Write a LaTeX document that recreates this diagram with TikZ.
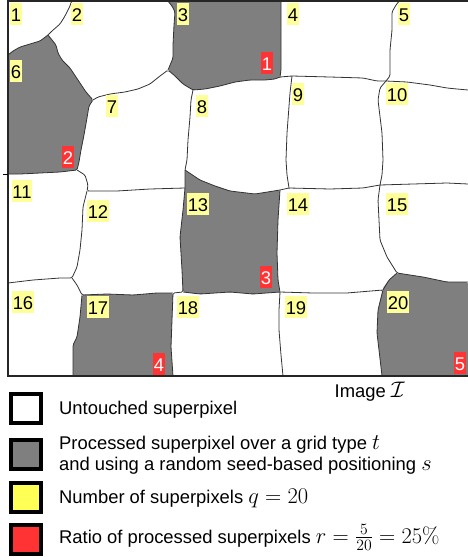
\RequirePackage{fix-cm}
\documentclass[tikz,border=0pt]{standalone}
\usepackage{amsmath}
\usepackage[no-math]{fontspec}
\setmainfont{Liberation Sans}
\usepackage{tikz}
\usetikzlibrary{positioning}
\definecolor{procgray}{RGB}{127,127,127}
\definecolor{numyellow}{RGB}{255,255,153}
\definecolor{keyyellow}{RGB}{255,255,85}
\definecolor{ratred}{RGB}{255,51,51}
\newcommand{\legmath}[1]{{\fontsize{22.5}{26}\selectfont$#1$}}

\begin{document}
\begin{tikzpicture}[x=1pt,y=-1pt,
numnode/.style={rectangle, fill=numyellow, inner xsep=0.7pt, inner ysep=2.5pt, text height=15.5pt, text depth=1.5pt, font=\fontsize{18.4}{22}\selectfont},
ratnode/.style={numnode, fill=ratred, text=white},
border/.style={draw=black!80, line width=0.8pt, rounded corners=1.5pt},
procfill/.style={fill=procgray, rounded corners=1.5pt},
keynode/.style={rectangle, draw=black, line width=3.5pt, minimum width=30pt, minimum height=29pt, inner sep=0pt, outer sep=0pt},
legtext/.style={anchor=base west, inner sep=0pt, font=\fontsize{18.4}{22}\selectfont},
]
\useasboundingbox (0,0) rectangle (468,560);

%Processed superpixels
\fill[procfill] (167,0) -- (172,6) -- (175,12) -- (174,25) -- (173,45) -- (173,58) -- (168,70) -- (175,76) -- (183,84) -- (193,90) -- (205,89) -- (220,86) -- (235,82) -- (250,80) -- (265,80) -- (275,79) -- (280,77) -- (281,70) -- (281,60) -- (281,30) -- (281,0) -- cycle;
\fill[procfill] (8,55) -- (13,51) -- (20,47) -- (30,44) -- (40,41) -- (48,35) -- (56,45) -- (58,53) -- (62,60) -- (70,68) -- (78,80) -- (86,92) -- (93,100) -- (89,106) -- (87,118) -- (84,135) -- (81,150) -- (79,162) -- (77,170) -- (60,172) -- (40,173) -- (20,174) -- (8,174) -- cycle;
\fill[procfill] (185,170) -- (200,180) -- (215,186) -- (230,191) -- (255,194) -- (280,190) -- (278,220) -- (277,253) -- (278,280) -- (280,292) -- (253,294) -- (230,292) -- (200,294) -- (183,292) -- (182,270) -- (180,237) -- (183,210) -- (185,188) -- cycle;
\fill[procfill] (82,295) -- (107,294) -- (133,295) -- (157,293) -- (173,293) -- (172,320) -- (171,347) -- (173,376) -- (73,376) -- (73,357) -- (73,345) -- (77,337) -- (80,317) -- cycle;
\fill[procfill] (397,273) -- (423,277) -- (447,282) -- (468,282) -- (468,376) -- (382,376) -- (379,350) -- (377,333) -- (378,310) -- (383,288) -- (389,280) -- cycle;

%Boundaries
\draw[border] (72,0) -- (70,6) -- (65,16) -- (60,24) -- (52,31) -- (48,35) -- (40,41) -- (30,44) -- (20,47) -- (13,51) -- (8,55);
\draw[border] (48,35) -- (56,45) -- (58,53) -- (62,60) -- (70,68) -- (78,80) -- (86,92) -- (93,100) -- (89,106) -- (87,118) -- (84,135) -- (81,150) -- (79,162) -- (77,170) -- (60,172) -- (40,173) -- (20,174) -- (8,174);
\draw[border] (93,100) -- (98,97) -- (110,94) -- (125,92) -- (138,89) -- (150,84) -- (160,76) -- (168,70) -- (175,76) -- (183,84) -- (193,90) -- (205,89) -- (220,86) -- (235,82) -- (250,80) -- (265,80) -- (275,79) -- (280,77) -- (292,76) -- (330,77) -- (363,78) -- (377,81) -- (386,81) -- (407,82) -- (430,85) -- (447,88) -- (457,89) -- (468,90);
\draw[border] (167,0) -- (172,6) -- (175,12) -- (174,25) -- (173,45) -- (173,58) -- (168,70);
\draw[border] (281,0) -- (281,30) -- (281,60) -- (281,70) -- (280,77);
\draw[border] (400,0) -- (396,5) -- (392,12) -- (392,30) -- (390,50) -- (390,65) -- (390,76) -- (386,81);
\draw[border] (193,90) -- (191,100) -- (190,117) -- (188,140) -- (187,160) -- (185,170) -- (185,188) -- (183,210) -- (180,237) -- (182,270) -- (183,292) -- (173,293) -- (172,320) -- (171,347) -- (173,376);
\draw[border] (292,76) -- (290,93) -- (287,133) -- (286,160) -- (287,175) -- (289,188);
\draw[border] (386,81) -- (380,88) -- (378,100) -- (382,133) -- (383,160) -- (382,175) -- (380,185) -- (378,200) -- (379,220) -- (380,240) -- (387,257) -- (397,273) -- (423,277) -- (447,282) -- (468,282);
\draw[border] (77,170) -- (85,175) -- (88,185) -- (87,191) -- (117,191) -- (150,189) -- (185,188);
\draw[border] (185,170) -- (200,180) -- (215,186) -- (230,191) -- (255,194) -- (280,190) -- (289,188) -- (330,189) -- (363,188) -- (380,185) -- (413,184) -- (447,183) -- (468,184);
\draw[border] (87,191) -- (83,207) -- (82,230) -- (80,250) -- (77,267) -- (72,278) -- (60,278) -- (33,280) -- (8,283);
\draw[border] (72,278) -- (77,285) -- (82,295) -- (107,294) -- (133,295) -- (157,293) -- (173,293);
\draw[border] (82,295) -- (80,317) -- (77,337) -- (73,345) -- (73,357) -- (73,376);
\draw[border] (280,190) -- (278,220) -- (277,253) -- (278,280) -- (280,292) -- (279,310) -- (279,330) -- (281,355) -- (283,376);
\draw[border] (183,292) -- (200,294) -- (230,292) -- (253,294) -- (280,292) -- (313,293) -- (347,293) -- (383,290) -- (378,310) -- (377,333) -- (379,350) -- (382,376);
\draw[border] (383,290) -- (389,280) -- (397,273);

%Frame of the image
\draw[line width=1.5pt, draw=black!85] (7.5,1) -- (468,1);
\draw[line width=2pt, draw=black!85] (7.5,0) -- (7.5,376) -- (468,376);
\draw[line width=1pt] (3,174) -- (7.5,174);

%Nodes
\node[numnode] (sp1) at (16,14) {1};
\node[numnode] (sp2) at (77,14) {2};
\node[numnode] (sp3) at (183,14) {3};
\node[numnode] (sp4) at (293,14) {4};
\node[numnode] (sp5) at (404,14) {5};
\node[numnode] (sp6) at (16,71) {6};
\node[numnode] (sp7) at (112,106) {7};
\node[numnode] (sp8) at (202,106) {8};
\node[numnode] (sp9) at (298,94) {9};
\node[numnode] (sp10) at (397,94) {10};
\node[numnode] (sp11) at (22,191) {11};
\node[numnode] (sp12) at (98,211) {12};
\node[numnode] (sp13) at (198,204) {13};
\node[numnode] (sp14) at (298,204) {14};
\node[numnode] (sp15) at (397,204) {15};
\node[numnode] (sp16) at (23,302) {16};
\node[numnode] (sp17) at (98,307) {17};
\node[numnode] (sp18) at (188,307) {18};
\node[numnode] (sp19) at (296,307) {19};
\node[numnode] (sp20) at (398,302) {20};

\node[ratnode] (rat1) at (267,63) {1};
\node[ratnode] (rat2) at (68,157) {2};
\node[ratnode] (rat3) at (266,277) {3};
\node[ratnode] (rat4) at (159,364) {4};
\node[ratnode] (rat5) at (460,363) {5};

\node[legtext, anchor=base east] (imgname) at (405,397) {Image \legmath{\mathcal{I}}};

%Legend
\node[keynode, fill=white] (keyuntouched) at (26,408.5) {};
\node[keynode, fill=procgray, below=17pt of keyuntouched] (keyprocessed) {};
\node[keynode, fill=keyyellow, below=14pt of keyprocessed] (keynumber) {};
\node[keynode, fill=ratred, below=13pt of keynumber] (keyratio) {};

\node[legtext] (txtuntouched) at (59,414) {Untouched superpixel};
\node[legtext] (txtprocessed) at (59,449) {Processed superpixel over a grid type \legmath{t}};
\node[legtext] (txtseed) at (59,470) {and using a random seed-based positioning \legmath{s}};
\node[legtext] (txtnumber) at (59,503) {Number of superpixels \legmath{q=20}};
\node[legtext] (txtratio) at (59,543) {Ratio of processed superpixels \legmath{r=\frac{5}{20}=25\%}};
\end{tikzpicture}
\end{document}
